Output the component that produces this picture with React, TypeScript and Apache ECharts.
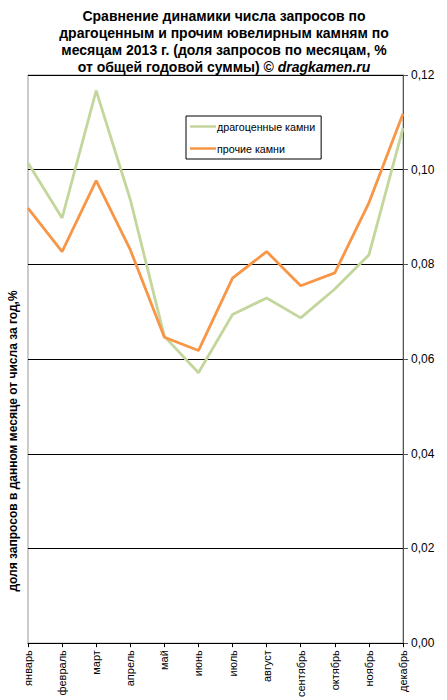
import React, { useEffect, useRef } from "react";
import * as echarts from "echarts";

const months = ["январь", "февраль", "март", "апрель", "май", "июнь", "июль", "август", "сентябрь", "октябрь", "ноябрь", "декабрь"];
const precious = [0.1014, 0.0898, 0.1167, 0.0937, 0.0648, 0.0571, 0.0694, 0.0729, 0.0687, 0.0748, 0.082, 0.1088];
const other = [0.0919, 0.0827, 0.0977, 0.0831, 0.0646, 0.0618, 0.0771, 0.0827, 0.0755, 0.0782, 0.093, 0.1118];
const seriesNames = ["драгоценные камни", "прочие камни"];
const titleText = "Сравнение динамики числа запросов по\nдрагоценным и прочим ювелирным камням по\nмесяцам 2013 г. (доля запросов по месяцам, %\nот общей годовой суммы) © {i|dragkamen.ru}";
const yName = "доля запросов в данном месяце от числа за год,%";

const FONT = "'Liberation Sans', Arial, sans-serif";

export default function App() {
  const ref = useRef<HTMLDivElement>(null);
  useEffect(() => {
    if (!ref.current) return;
    const chart = echarts.init(ref.current, null, { renderer: "svg" });
    chart.setOption({
      animation: false,
      backgroundColor: "#ffffff",
      textStyle: { fontFamily: FONT },
      title: {
        text: titleText,
        left: 219,
        top: 2,
        textAlign: "center",
        textStyle: {
          fontFamily: FONT,
          fontSize: 14,
          fontWeight: "bold",
          color: "#000",
          lineHeight: 17,
          rich: {
            i: { fontFamily: FONT, fontSize: 14, fontWeight: "bold", fontStyle: "italic", color: "#000" },
          },
        },
      },
      legend: {
        data: seriesNames,
        orient: "vertical",
        left: 186,
        top: 116,
        padding: [5, 6, 5, 4],
        itemGap: 11,
        itemWidth: 26,
        itemHeight: 12,
        borderColor: "#000",
        borderWidth: 1,
        backgroundColor: "#fff",
        icon: "path://M0,5 L26,5 L26,7.5 L0,7.5 Z",
        textStyle: { fontFamily: FONT, fontSize: 10.7, color: "#000", padding: [0, 0, 0, -4] },
      },
      grid: { left: 28, right: 44, top: 75, bottom: 56.5, show: true, borderColor: "#999", borderWidth: 1 },
      xAxis: {
        type: "category",
        data: months,
        boundaryGap: false,
        axisLine: { lineStyle: { color: "#000", width: 1 } },
        axisTick: { show: true, length: 4, lineStyle: { color: "#000" } },
        axisLabel: { rotate: 90, fontSize: 11, color: "#000", fontFamily: FONT, margin: 7, interval: 0 },
        splitLine: { show: false },
      },
      yAxis: {
        type: "value",
        position: "right",
        min: 0,
        max: 0.12,
        interval: 0.02,
        axisLine: { show: true, lineStyle: { color: "#555", width: 1 } },
        axisTick: { show: true, inside: false, length: 5, lineStyle: { color: "#555" } },
        axisLabel: {
          fontSize: 12,
          color: "#000",
          fontFamily: FONT,
          margin: 8,
          formatter: (v: number) => v.toFixed(2).replace(".", ","),
        },
        splitLine: { show: true, lineStyle: { color: "#000", width: 1 } },
      },
      graphic: [
        {
          type: "text",
          x: 13,
          y: 441,
          rotation: Math.PI / 2,
          style: {
            text: yName,
            font: `bold 12px ${FONT}`,
            fill: "#000",
            align: "center",
            verticalAlign: "middle",
          },
        },
      ],
      series: [
        {
          name: seriesNames[0],
          type: "line",
          data: precious,
          showSymbol: false,
          symbol: "none",
          lineStyle: { color: "#c3d69b", width: 2.8 },
          itemStyle: { color: "#c3d69b" },
          z: 2,
        },
        {
          name: seriesNames[1],
          type: "line",
          data: other,
          showSymbol: false,
          symbol: "none",
          lineStyle: { color: "#f79646", width: 2.8 },
          itemStyle: { color: "#f79646" },
          z: 3,
        },
      ],
    });
    return () => chart.dispose();
  }, []);
  return <div ref={ref} style={{ width: 447, height: 700, position: "absolute", left: 0, top: 0 }} />;
}
